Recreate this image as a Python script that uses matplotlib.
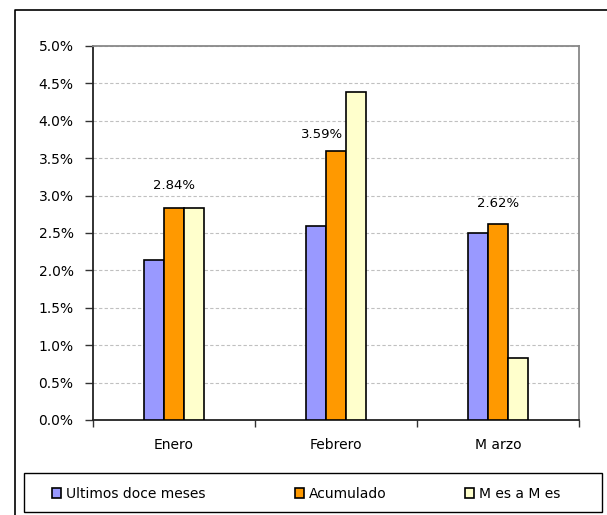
import numpy as np
import matplotlib
matplotlib.use("Agg")
import matplotlib.pyplot as plt
from matplotlib.lines import Line2D
from matplotlib.patches import Rectangle

plt.rcParams['font.family'] = ['DejaVu Sans']

meses = ['Enero', 'Febrero', 'M arzo']
series = ['Ultimos doce meses', 'Acumulado', 'M es a M es']
ultimos = [2.14, 2.60, 2.50]
acumulado = [2.84, 3.59, 2.62]
mes_a_mes = [2.84, 4.38, 0.83]
etiquetas = ['2.84%', '3.59%', '2.62%']
etiq_x = [0.0, 0.915, 2.0]
etiq_y = [3.13, 3.81, 2.90]
colores = ['#9999FF', '#FF9900', '#FFFFCC']

fig = plt.figure(figsize=(6.07, 5.15), dpi=100)
ax = fig.add_axes([0.1532, 0.1845, 0.8007, 0.7262])

x = np.arange(len(meses))
w = 0.123
for i, (vals, nom) in enumerate(zip([ultimos, acumulado, mes_a_mes], series)):
    ax.bar(x + (i - 1) * w, vals, w, color=colores[i], edgecolor='black',
           linewidth=1.2, label=nom, zorder=3)

for xi, yi, t in zip(etiq_x, etiq_y, etiquetas):
    ax.text(xi, yi, t, ha='center', va='center', fontsize=9.5)

ax.set_ylim(0, 5)
ax.set_xlim(-0.5, 2.5)
yt = np.arange(0, 5.01, 0.5)
ax.set_yticks(yt)
ax.set_yticklabels(['%.1f%%' % v for v in yt], fontsize=10)
ax.set_xticks(x)
ax.set_xticklabels(meses, fontsize=10)
ax.tick_params(axis='x', length=0, pad=13)
ax.set_xticks([-0.5, 0.5, 1.5, 2.5], minor=True)
ax.tick_params(axis='x', which='minor', length=5, width=1, color='#333333')
ax.tick_params(axis='y', length=6, width=1, color='#333333', pad=8)

ax.yaxis.grid(True, linestyle=(0, (3, 2)), color='#c0c0c0', linewidth=0.8, zorder=0)
ax.set_axisbelow(True)
for s in ['left', 'bottom']:
    ax.spines[s].set_color('#222222')
    ax.spines[s].set_linewidth(1.3)
for s in ['top', 'right']:
    ax.spines[s].set_color('#888888')
    ax.spines[s].set_linewidth(1.3)

# leyenda: caja y tres entradas
fig.add_artist(Rectangle((24 / 607, 3 / 515), 578 / 607, 39 / 515,
                         transform=fig.transFigure, fill=False,
                         edgecolor='black', linewidth=1.0))
h, l = ax.get_legend_handles_labels()
leg_x = [52, 295, 465]
for hi, li, lx in zip(h, l, leg_x):
    fig.legend([hi], [li], loc='center left',
               bbox_to_anchor=(lx / 607, 1 - 494 / 515),
               frameon=False, fontsize=10, handlelength=0.65,
               handleheight=0.65, handletextpad=0.35,
               borderaxespad=0, borderpad=0)

fig.add_artist(Line2D([15 / 607, 15 / 607, 1.0], [0.0, 1 - 10 / 515, 1 - 10 / 515],
                      transform=fig.transFigure, color='black', linewidth=1.2))

fig.savefig('out.png', dpi=100)
